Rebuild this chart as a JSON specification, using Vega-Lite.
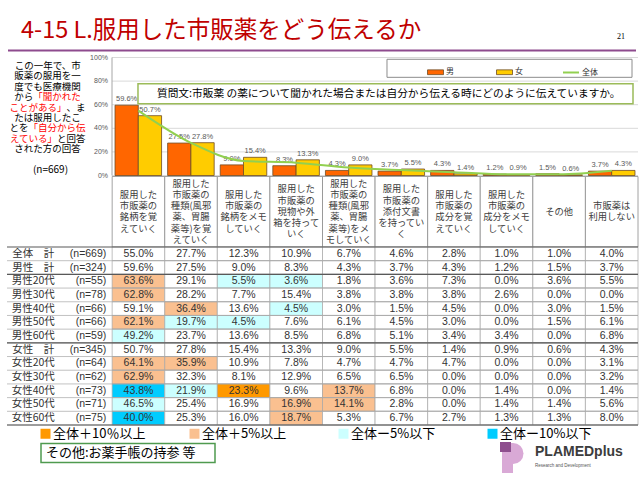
{
  "$schema": "https://vega.github.io/schema/vega-lite/v6.json",
  "width": 640, "height": 480, "padding": 0,
  "autosize": {"type": "none"},
  "background": "white",
  "config": {"view": {"stroke": null}, "font": "Noto Sans CJK JP"},
  "datasets": {
    "cells": [
      {"g":"全体　計","c":"c1","v":55.0},{"g":"全体　計","c":"c2","v":27.7},{"g":"全体　計","c":"c3","v":12.3},{"g":"全体　計","c":"c4","v":10.9},{"g":"全体　計","c":"c5","v":6.7},{"g":"全体　計","c":"c6","v":4.6},{"g":"全体　計","c":"c7","v":2.8},{"g":"全体　計","c":"c8","v":1.0},{"g":"全体　計","c":"c9","v":1.0},{"g":"全体　計","c":"c10","v":4.0},
      {"g":"男性　計","c":"c1","v":59.6},{"g":"男性　計","c":"c2","v":27.5},{"g":"男性　計","c":"c3","v":9.0},{"g":"男性　計","c":"c4","v":8.3},{"g":"男性　計","c":"c5","v":4.3},{"g":"男性　計","c":"c6","v":3.7},{"g":"男性　計","c":"c7","v":4.3},{"g":"男性　計","c":"c8","v":1.2},{"g":"男性　計","c":"c9","v":1.5},{"g":"男性　計","c":"c10","v":3.7},
      {"g":"男性20代","c":"c1","v":63.6,"hl":"+5"},{"g":"男性20代","c":"c2","v":29.1},{"g":"男性20代","c":"c3","v":5.5,"hl":"-5"},{"g":"男性20代","c":"c4","v":3.6,"hl":"-5"},{"g":"男性20代","c":"c5","v":1.8},{"g":"男性20代","c":"c6","v":3.6},{"g":"男性20代","c":"c7","v":7.3},{"g":"男性20代","c":"c8","v":0.0},{"g":"男性20代","c":"c9","v":3.6},{"g":"男性20代","c":"c10","v":5.5},
      {"g":"男性30代","c":"c1","v":62.8,"hl":"+5"},{"g":"男性30代","c":"c2","v":28.2},{"g":"男性30代","c":"c3","v":7.7},{"g":"男性30代","c":"c4","v":15.4},{"g":"男性30代","c":"c5","v":3.8},{"g":"男性30代","c":"c6","v":3.8},{"g":"男性30代","c":"c7","v":3.8},{"g":"男性30代","c":"c8","v":2.6},{"g":"男性30代","c":"c9","v":0.0},{"g":"男性30代","c":"c10","v":0.0},
      {"g":"男性40代","c":"c1","v":59.1},{"g":"男性40代","c":"c2","v":36.4,"hl":"+5"},{"g":"男性40代","c":"c3","v":13.6},{"g":"男性40代","c":"c4","v":4.5,"hl":"-5"},{"g":"男性40代","c":"c5","v":3.0},{"g":"男性40代","c":"c6","v":1.5},{"g":"男性40代","c":"c7","v":4.5},{"g":"男性40代","c":"c8","v":0.0},{"g":"男性40代","c":"c9","v":3.0},{"g":"男性40代","c":"c10","v":1.5},
      {"g":"男性50代","c":"c1","v":62.1,"hl":"+5"},{"g":"男性50代","c":"c2","v":19.7,"hl":"-5"},{"g":"男性50代","c":"c3","v":4.5,"hl":"-5"},{"g":"男性50代","c":"c4","v":7.6},{"g":"男性50代","c":"c5","v":6.1},{"g":"男性50代","c":"c6","v":4.5},{"g":"男性50代","c":"c7","v":3.0},{"g":"男性50代","c":"c8","v":0.0},{"g":"男性50代","c":"c9","v":1.5},{"g":"男性50代","c":"c10","v":6.1},
      {"g":"男性60代","c":"c1","v":49.2,"hl":"-5"},{"g":"男性60代","c":"c2","v":23.7},{"g":"男性60代","c":"c3","v":13.6},{"g":"男性60代","c":"c4","v":8.5},{"g":"男性60代","c":"c5","v":6.8},{"g":"男性60代","c":"c6","v":5.1},{"g":"男性60代","c":"c7","v":3.4},{"g":"男性60代","c":"c8","v":3.4},{"g":"男性60代","c":"c9","v":0.0},{"g":"男性60代","c":"c10","v":6.8},
      {"g":"女性　計","c":"c1","v":50.7},{"g":"女性　計","c":"c2","v":27.8},{"g":"女性　計","c":"c3","v":15.4},{"g":"女性　計","c":"c4","v":13.3},{"g":"女性　計","c":"c5","v":9.0},{"g":"女性　計","c":"c6","v":5.5},{"g":"女性　計","c":"c7","v":1.4},{"g":"女性　計","c":"c8","v":0.9},{"g":"女性　計","c":"c9","v":0.6},{"g":"女性　計","c":"c10","v":4.3},
      {"g":"女性20代","c":"c1","v":64.1,"hl":"+5"},{"g":"女性20代","c":"c2","v":35.9,"hl":"+5"},{"g":"女性20代","c":"c3","v":10.9},{"g":"女性20代","c":"c4","v":7.8},{"g":"女性20代","c":"c5","v":4.7},{"g":"女性20代","c":"c6","v":4.7},{"g":"女性20代","c":"c7","v":4.7},{"g":"女性20代","c":"c8","v":0.0},{"g":"女性20代","c":"c9","v":0.0},{"g":"女性20代","c":"c10","v":3.1},
      {"g":"女性30代","c":"c1","v":62.9,"hl":"+5"},{"g":"女性30代","c":"c2","v":32.3},{"g":"女性30代","c":"c3","v":8.1},{"g":"女性30代","c":"c4","v":12.9},{"g":"女性30代","c":"c5","v":6.5},{"g":"女性30代","c":"c6","v":6.5},{"g":"女性30代","c":"c7","v":0.0},{"g":"女性30代","c":"c8","v":0.0},{"g":"女性30代","c":"c9","v":0.0},{"g":"女性30代","c":"c10","v":3.2},
      {"g":"女性40代","c":"c1","v":43.8,"hl":"-10"},{"g":"女性40代","c":"c2","v":21.9,"hl":"-5"},{"g":"女性40代","c":"c3","v":23.3,"hl":"+10"},{"g":"女性40代","c":"c4","v":9.6},{"g":"女性40代","c":"c5","v":13.7,"hl":"+5"},{"g":"女性40代","c":"c6","v":6.8},{"g":"女性40代","c":"c7","v":0.0},{"g":"女性40代","c":"c8","v":1.4},{"g":"女性40代","c":"c9","v":0.0},{"g":"女性40代","c":"c10","v":1.4},
      {"g":"女性50代","c":"c1","v":46.5,"hl":"-5"},{"g":"女性50代","c":"c2","v":25.4},{"g":"女性50代","c":"c3","v":16.9},{"g":"女性50代","c":"c4","v":16.9,"hl":"+5"},{"g":"女性50代","c":"c5","v":14.1,"hl":"+5"},{"g":"女性50代","c":"c6","v":2.8},{"g":"女性50代","c":"c7","v":0.0},{"g":"女性50代","c":"c8","v":1.4},{"g":"女性50代","c":"c9","v":1.4},{"g":"女性50代","c":"c10","v":5.6},
      {"g":"女性60代","c":"c1","v":40.0,"hl":"-10"},{"g":"女性60代","c":"c2","v":25.3},{"g":"女性60代","c":"c3","v":16.0},{"g":"女性60代","c":"c4","v":18.7,"hl":"+5"},{"g":"女性60代","c":"c5","v":5.3},{"g":"女性60代","c":"c6","v":6.7},{"g":"女性60代","c":"c7","v":2.7},{"g":"女性60代","c":"c8","v":1.3},{"g":"女性60代","c":"c9","v":1.3},{"g":"女性60代","c":"c10","v":8.0}
    ],
    "rows": [
      {"g":"全体　計","n":"(n=669)"},{"g":"男性　計","n":"(n=324)"},{"g":"男性20代","n":"(n=55)"},{"g":"男性30代","n":"(n=78)"},{"g":"男性40代","n":"(n=66)"},{"g":"男性50代","n":"(n=66)"},{"g":"男性60代","n":"(n=59)"},
      {"g":"女性　計","n":"(n=345)"},{"g":"女性20代","n":"(n=64)"},{"g":"女性30代","n":"(n=62)"},{"g":"女性40代","n":"(n=73)"},{"g":"女性50代","n":"(n=71)"},{"g":"女性60代","n":"(n=75)"}
    ],
    "cols": [{"c":"c1"},{"c":"c2"},{"c":"c3"},{"c":"c4"},{"c":"c5"},{"c":"c6"},{"c":"c7"},{"c":"c8"},{"c":"c9"},{"c":"c10"}],
    "hdr": [
      {"c":"c1","i":1,"t":"服用した"},{"c":"c1","i":2,"t":"市販薬の"},{"c":"c1","i":3,"t":"銘柄を覚"},{"c":"c1","i":4,"t":"えていく"},
      {"c":"c2","i":1,"t":"服用した"},{"c":"c2","i":2,"t":"市販薬の"},{"c":"c2","i":3,"t":"種類(風邪"},{"c":"c2","i":4,"t":"薬、胃腸"},{"c":"c2","i":5,"t":"薬等)を覚"},{"c":"c2","i":6,"t":"えていく"},
      {"c":"c3","i":1,"t":"服用した"},{"c":"c3","i":2,"t":"市販薬の"},{"c":"c3","i":3,"t":"銘柄をメモ"},{"c":"c3","i":4,"t":"していく"},
      {"c":"c4","i":1,"t":"服用した"},{"c":"c4","i":2,"t":"市販薬の"},{"c":"c4","i":3,"t":"現物や外"},{"c":"c4","i":4,"t":"箱を持って"},{"c":"c4","i":5,"t":"いく"},
      {"c":"c5","i":1,"t":"服用した"},{"c":"c5","i":2,"t":"市販薬の"},{"c":"c5","i":3,"t":"種類(風邪"},{"c":"c5","i":4,"t":"薬、胃腸"},{"c":"c5","i":5,"t":"薬等)をメ"},{"c":"c5","i":6,"t":"モしていく"},
      {"c":"c6","i":1,"t":"服用した"},{"c":"c6","i":2,"t":"市販薬の"},{"c":"c6","i":3,"t":"添付文書"},{"c":"c6","i":4,"t":"を持ってい"},{"c":"c6","i":5,"t":"く"},
      {"c":"c7","i":1,"t":"服用した"},{"c":"c7","i":2,"t":"市販薬の"},{"c":"c7","i":3,"t":"成分を覚"},{"c":"c7","i":4,"t":"えていく"},
      {"c":"c8","i":1,"t":"服用した"},{"c":"c8","i":2,"t":"市販薬の"},{"c":"c8","i":3,"t":"成分をメモ"},{"c":"c8","i":4,"t":"していく"},
      {"c":"c9","i":1,"t":"その他"},
      {"c":"c10","i":1,"t":"市販薬は"},{"c":"c10","i":2,"t":"利用しない"}
    ],
    "notes": [
      {"line":1,"a":"この一年で、市","b":"","emph":"none"},
      {"line":2,"a":"販薬の服用を一","b":"","emph":"none"},
      {"line":3,"a":"度でも医療機関","b":"","emph":"none"},
      {"line":4,"a":"から","b":"「聞かれた","emph":"b"},
      {"line":5,"a":"ことがある」","b":"、ま","emph":"a"},
      {"line":6,"a":"たは服用したこ","b":"","emph":"none"},
      {"line":7,"a":"とを","b":"「自分から伝","emph":"b"},
      {"line":8,"a":"えている」","b":"と回答","emph":"a"},
      {"line":9,"a":"された方の回答","b":"","emph":"none"},
      {"line":11,"a":"(n=669)","b":"","emph":"none"}
    ],
    "ticks": [{"t":0},{"t":20},{"t":40},{"t":60},{"t":80},{"t":100}],
    "question": [{"text":"質問文:市販薬 の薬について聞かれた場合または自分から伝える時にどのように伝えていますか。"}],
    "extras": [{"title":"4-15 L.服用した市販薬をどう伝えるか","page":"21","note":"その他:お薬手帳の持参 等","logo":"PLAMEDplus","sub":"Research and Development"}]
  },
  "resolve": {"scale": {"x": "independent", "y": "independent", "color": "independent", "fill": "independent", "stroke": "independent"}},
  "layer": [
    {
      "data": {"name": "extras"},
      "layer": [
        {"mark": {"type": "text", "align": "left", "baseline": "alphabetic", "fontSize": 23.5, "color": "#C00000"}, "encoding": {"text": {"field": "title"}, "x": {"value": 21}, "y": {"value": 38}}},
        {"mark": {"type": "text", "align": "right", "baseline": "alphabetic", "fontSize": 8, "font": "Liberation Serif", "color": "#000000"}, "encoding": {"text": {"field": "page"}, "x": {"value": 625}, "y": {"value": 39}}},
        {"mark": {"type": "rule", "stroke": "#8E4B8E", "strokeWidth": 2}, "encoding": {"x": {"value": 8}, "x2": {"value": 636}, "y": {"value": 50.5}}},
        {"mark": {"type": "rect", "fill": "white", "stroke": "#4f9a4f", "strokeWidth": 1.5}, "encoding": {"x": {"value": 41}, "x2": {"value": 215}, "y": {"value": 443.5}, "y2": {"value": 462.5}}},
        {"mark": {"type": "text", "align": "left", "baseline": "middle", "fontSize": 13, "color": "#000000"}, "encoding": {"text": {"field": "note"}, "x": {"value": 46}, "y": {"value": 453}}},
        {"mark": {"type": "rect", "fill": "#D9A9D6"}, "encoding": {"x": {"value": 502}, "x2": {"value": 513}, "y": {"value": 443}, "y2": {"value": 473}}},
        {"mark": {"type": "arc", "fill": "#D9A9D6", "radius": 10.5, "theta": 0, "theta2": 3.1416}, "encoding": {"x": {"value": 513}, "y": {"value": 453.5}}},
        {"mark": {"type": "rect", "fill": "#8E4E8E"}, "encoding": {"x": {"value": 500}, "x2": {"value": 511}, "y": {"value": 442}, "y2": {"value": 452}}},
        {"mark": {"type": "text", "align": "left", "baseline": "middle", "fontSize": 14, "fontWeight": "bold", "font": "Liberation Sans", "color": "#3c3c3c"}, "encoding": {"text": {"field": "logo"}, "x": {"value": 535}, "y": {"value": 452}}},
        {"mark": {"type": "text", "align": "left", "baseline": "middle", "fontSize": 4.5, "font": "Liberation Sans", "color": "#555555"}, "encoding": {"text": {"field": "sub"}, "x": {"value": 535}, "y": {"value": 466}}}
      ]
    },
    {
      "data": {"name": "notes"},
      "transform": [{"calculate": "length(datum.a) - (length(datum.a) + length(datum.b)) / 2", "as": "k"}],
      "layer": [
        {
          "transform": [{"filter": "datum.line <= 9"}],
          "mark": {"type": "text", "align": "right", "baseline": "middle", "fontSize": 9.5},
          "encoding": {
            "x": {"field": "k", "type": "quantitative", "scale": {"domain": [-4, 4], "range": [9.5, 85.5]}, "axis": null},
            "y": {"field": "line", "type": "quantitative", "scale": {"domain": [1, 11], "range": [66, 170]}, "axis": null},
            "text": {"field": "a"},
            "color": {"condition": {"test": "datum.emph == 'a'", "value": "#FF0000"}, "value": "#000000"}
          }
        },
        {
          "transform": [{"filter": "datum.line <= 9"}],
          "mark": {"type": "text", "align": "left", "baseline": "middle", "fontSize": 9.5},
          "encoding": {
            "x": {"field": "k", "type": "quantitative"},
            "y": {"field": "line", "type": "quantitative"},
            "text": {"field": "b"},
            "color": {"condition": {"test": "datum.emph == 'b'", "value": "#FF0000"}, "value": "#000000"}
          }
        },
        {
          "transform": [{"filter": "datum.line == 11"}],
          "mark": {"type": "text", "align": "center", "baseline": "middle", "fontSize": 10, "dx": 3, "color": "#000000"},
          "encoding": {
            "x": {"datum": 0, "type": "quantitative"},
            "y": {"field": "line", "type": "quantitative"},
            "text": {"field": "a"}
          }
        }
      ]
    },
    {
      "data": {"name": "ticks"},
      "transform": [{"calculate": "datum.t + '%'", "as": "tl"}],
      "encoding": {
        "x": {"datum": 0, "type": "quantitative", "scale": {"domain": [0, 10], "range": [112, 638], "nice": false, "zero": false}, "axis": null},
        "y": {"field": "t", "type": "quantitative", "scale": {"domain": [0, 100], "range": [175.5, 57.5], "nice": false}, "axis": null}
      },
      "layer": [
        {"mark": {"type": "rule", "stroke": "#d9d9d9", "strokeWidth": 1}, "encoding": {"x2": {"datum": 10}}},
        {"transform": [{"filter": "datum.t == 0"}], "mark": {"type": "rule", "stroke": "#a6a6a6", "strokeWidth": 1}, "encoding": {"y2": {"datum": 100}}},
        {"mark": {"type": "text", "align": "right", "baseline": "middle", "dx": -4, "fontSize": 7, "color": "#595959", "font": "Liberation Sans"}, "encoding": {"text": {"field": "tl"}}}
      ]
    },
    {
      "data": {"name": "cells"},
      "transform": [{"calculate": "format(datum.v, '.1f') + '%'", "as": "label"}],
      "encoding": {
        "x": {"field": "c", "type": "nominal", "scale": {"domain": ["c1","c2","c3","c4","c5","c6","c7","c8","c9","c10"], "range": [112, 638], "paddingInner": 0, "paddingOuter": 0}, "axis": null},
        "y": {"field": "v", "type": "quantitative", "scale": {"domain": [0, 100], "range": [175.5, 57.5], "nice": false}, "axis": null}
      },
      "layer": [
        {
          "transform": [{"filter": {"field": "g", "oneOf": ["男性　計", "女性　計"]}}],
          "encoding": {"xOffset": {"field": "g", "type": "nominal", "scale": {"domain": ["男性　計", "女性　計"], "paddingInner": 0, "paddingOuter": 0.13}}},
          "layer": [
            {
              "mark": {"type": "bar", "stroke": "#6e4b25", "strokeWidth": 0.8},
              "encoding": {
                "color": {"field": "g", "type": "nominal",
                  "scale": {"domain": ["男性　計", "女性　計"], "range": ["#FF6600", "#FFCC00"]},
                  "legend": {"orient": "none", "legendX": 427, "legendY": 63.5, "direction": "horizontal", "title": null, "padding": 0,
                    "labelExpr": "datum.label == '男性　計' ? '男' : '女'",
                    "symbolType": "M-1,-0.3H1V0.3H-1Z", "symbolSize": 256, "symbolStrokeColor": "#6e4b25", "symbolStrokeWidth": 0.8,
                    "labelFontSize": 8, "labelFont": "Noto Sans CJK JP", "labelColor": "#333333", "columnPadding": 40, "labelOffset": 2}}
              }
            },
            {
              "mark": {"type": "text", "baseline": "bottom", "dy": -2, "fontSize": 7.5, "color": "#595959", "font": "Liberation Sans"},
              "encoding": {"text": {"field": "label"}}
            }
          ]
        },
        {
          "transform": [{"filter": "datum.g == '全体　計'"}],
          "mark": {"type": "line", "interpolate": "monotone", "strokeWidth": 2},
          "encoding": {
            "stroke": {"datum": "全体", "type": "nominal", "scale": {"domain": ["全体"], "range": ["#92D050"]},
              "legend": {"orient": "none", "legendX": 562, "legendY": 63.5, "title": null, "padding": 0, "symbolType": "stroke", "symbolSize": 256, "symbolStrokeWidth": 2,
                "labelFontSize": 8, "labelFont": "Noto Sans CJK JP", "labelColor": "#333333", "labelOffset": 2}}
          }
        }
      ]
    },
    {
      "data": {"name": "question"},
      "layer": [
        {
          "mark": {"type": "rect", "fill": "white", "stroke": "#8c8c8c", "strokeWidth": 1},
          "encoding": {
            "x": {"datum": 5.228, "type": "quantitative", "scale": {"domain": [0, 10], "range": [112, 638], "nice": false, "zero": false}, "axis": null},
            "x2": {"datum": 9.886},
            "y": {"datum": 98.5, "type": "quantitative", "scale": {"domain": [0, 100], "range": [175.5, 57.5], "nice": false}, "axis": null},
            "y2": {"datum": 83.2}
          }
        },
        {
          "mark": {"type": "rect", "fill": "white", "stroke": "#9BBB59", "strokeWidth": 1.5},
          "encoding": {
            "x": {"datum": 0.494, "type": "quantitative"},
            "x2": {"datum": 9.905},
            "y": {"datum": 77.7, "type": "quantitative"},
            "y2": {"datum": 60.8}
          }
        },
        {
          "mark": {"type": "text", "align": "left", "baseline": "middle", "fontSize": 10.7, "color": "#000000"},
          "encoding": {
            "x": {"datum": 0.855, "type": "quantitative"},
            "y": {"datum": 69.3, "type": "quantitative"},
            "text": {"field": "text"}
          }
        }
      ]
    },
    {
      "data": {"name": "cols"},
      "mark": {"type": "rect", "fill": "white", "stroke": "#8c8c8c", "strokeWidth": 0.8},
      "encoding": {
        "x": {"field": "c", "type": "nominal", "scale": {"domain": ["name","n","c1","c2","c3","c4","c5","c6","c7","c8","c9","c10"], "range": [7, 638], "paddingInner": 0, "paddingOuter": 0}, "axis": null},
        "y": {"datum": "h", "type": "nominal", "scale": {"domain": ["h"], "range": [176.5, 247], "paddingInner": 0, "paddingOuter": 0}, "axis": null}
      }
    },
    {
      "data": {"name": "hdr"},
      "transform": [
        {"joinaggregate": [{"op": "count", "as": "nl"}], "groupby": ["c"]},
        {"calculate": "datum.i - (datum.nl + 1) / 2", "as": "yy"}
      ],
      "mark": {"type": "text", "fontSize": 9.3, "color": "#404040", "baseline": "middle"},
      "encoding": {
        "x": {"field": "c", "type": "nominal", "scale": {"domain": ["name","n","c1","c2","c3","c4","c5","c6","c7","c8","c9","c10"], "range": [7, 638], "paddingInner": 0, "paddingOuter": 0}, "axis": null},
        "y": {"field": "yy", "type": "quantitative", "scale": {"domain": [-3, 3], "range": [178.15, 245.35], "nice": false, "zero": false}, "axis": null},
        "text": {"field": "t"}
      }
    },
    {
      "resolve": {"scale": {"x": "independent"}},
      "layer": [
        {
          "data": {"name": "cells"},
          "transform": [{"calculate": "format(datum.v, '.1f') + '%'", "as": "label"}],
          "encoding": {
            "x": {"field": "c", "type": "nominal", "scale": {"domain": ["name","n","c1","c2","c3","c4","c5","c6","c7","c8","c9","c10"], "range": [7, 638], "paddingInner": 0, "paddingOuter": 0}, "axis": null},
            "y": {"field": "g", "type": "nominal", "scale": {"domain": ["全体　計","男性　計","男性20代","男性30代","男性40代","男性50代","男性60代","女性　計","女性20代","女性30代","女性40代","女性50代","女性60代"], "range": [247, 425], "paddingInner": 0, "paddingOuter": 0}, "axis": null}
          },
          "layer": [
            {
              "mark": {"type": "rect", "stroke": "#a6a6a6", "strokeWidth": 0.7},
              "encoding": {
                "fill": {
                  "condition": {"test": "isValid(datum.hl)", "field": "hl", "type": "nominal",
                    "scale": {"domain": ["+10", "+5", "-5", "-10"], "range": ["#FF9900", "#FAC090", "#CCFFFF", "#00CCFF"]},
                    "legend": {"orient": "none", "legendX": 39, "legendY": 427, "direction": "horizontal", "columns": 4, "gridAlign": "all", "title": null, "padding": 0,
                      "labelExpr": "datum.label == '+10' ? '全体＋10％以上' : datum.label == '+5' ? '全体＋5%以上' : datum.label == '-5' ? '全体ー5%以下' : '全体ー10%以下'",
                      "symbolType": "square", "symbolSize": 100, "symbolStrokeWidth": 0, "labelFontSize": 13, "labelFont": "Noto Sans CJK JP", "labelColor": "#000000", "columnPadding": 42, "labelOffset": 1}},
                  "value": "white"
                }
              }
            },
            {
              "mark": {"type": "text", "fontSize": 10.5, "color": "#333333", "baseline": "middle", "font": "Liberation Sans"},
              "encoding": {"text": {"field": "label"}}
            }
          ]
        },
        {
          "data": {"name": "rows"},
          "encoding": {
            "y": {"field": "g", "type": "nominal"},
            "x": {"datum": "name", "type": "nominal", "scale": {"domain": ["name","n","c1","c2","c3","c4","c5","c6","c7","c8","c9","c10"], "range": [7, 638], "paddingInner": 0, "paddingOuter": 0}, "axis": null}
          },
          "layer": [
            {
              "mark": {"type": "text", "fontSize": 10.5, "color": "#333333", "baseline": "middle"},
              "encoding": {"text": {"field": "g"}}
            },
            {
              "mark": {"type": "text", "fontSize": 10.5, "color": "#333333", "baseline": "middle", "align": "right", "dx": 73, "font": "Liberation Sans"},
              "encoding": {"text": {"field": "n"}}
            }
          ]
        },
        {
          "data": {"name": "rows"},
          "encoding": {
            "x": {"datum": 0, "type": "quantitative", "scale": {"domain": [0, 12], "range": [7, 638], "nice": false, "zero": false}, "axis": null},
            "x2": {"datum": 12}
          },
          "layer": [
            {"mark": {"type": "rule", "stroke": "#a6a6a6", "strokeWidth": 0.7}, "encoding": {"y": {"field": "g", "type": "nominal", "bandPosition": 1}}},
            {"transform": [{"filter": {"field": "g", "oneOf": ["男性　計", "男性60代", "女性60代"]}}], "mark": {"type": "rule", "stroke": "#595959", "strokeWidth": 1.2}, "encoding": {"y": {"field": "g", "type": "nominal", "bandPosition": 1}}},
            {"transform": [{"filter": "datum.g == '全体　計'"}], "mark": {"type": "rule", "stroke": "#595959", "strokeWidth": 1.2}, "encoding": {"y": {"field": "g", "type": "nominal", "bandPosition": 0}}}
          ]
        }
      ]
    }
  ]
}
